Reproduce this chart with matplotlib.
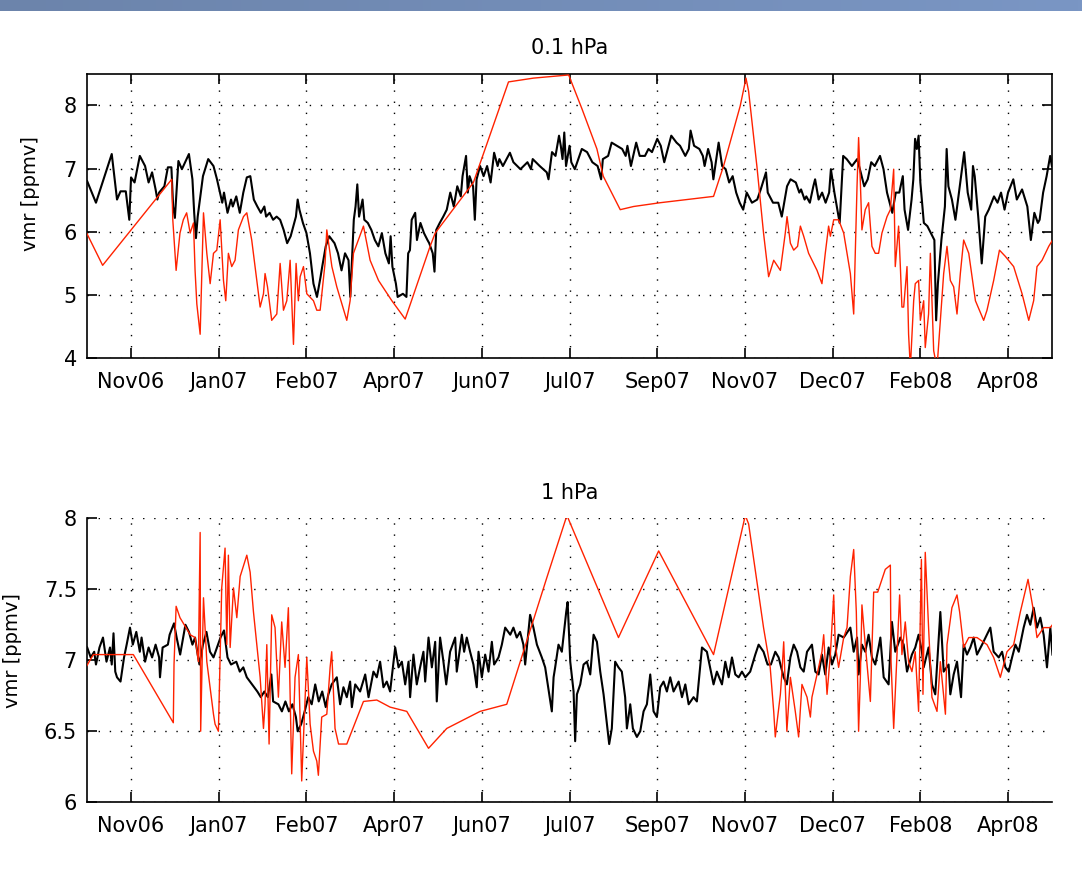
import datetime as dt
import numpy as np
import matplotlib
matplotlib.use('Agg')
import matplotlib.pyplot as plt
import matplotlib.dates as mdates
from matplotlib.colors import LinearSegmentedColormap

# days are counted from 19 Nov 2006
base = dt.datetime(2006, 11, 19)

# 0.1 hPa, black series
top_black_day = [-25, -20, -11, -8, -6, -3, -1, 0, 2, 5, 8, 10, 12, 14, 15, 16, 19, 21, 23, 24,
                 25, 27, 29, 33, 35, 36, 37, 38, 41, 44, 47, 49, 52, 53, 55, 57, 58, 60, 62, 64,
                 66, 68, 70, 72, 74, 76, 77, 79, 81, 83, 85, 87, 89, 91, 94, 95, 96, 98, 100, 102,
                 104, 106, 108, 109, 111, 113, 116, 118, 120, 122, 124, 125, 127, 128, 129, 130, 132, 133, 135, 137,
                 139, 141, 143, 145, 147, 148, 149, 151, 152, 155, 157, 158, 159, 160, 162, 163, 165, 167, 169, 170,
                 172, 173, 174, 176, 178, 180, 182, 184, 186, 188, 189, 191, 192, 193, 195, 196, 197, 199, 201, 203,
                 205, 207, 209, 210, 212, 216, 218, 222, 226, 228, 229, 233, 237, 238, 240, 242, 244, 245, 246, 247,
                 248, 250, 251, 253, 257, 260, 263, 266, 268, 269, 272, 274, 277, 280, 282, 283, 285, 288, 290, 293,
                 295, 297, 300, 302, 304, 306, 308, 311, 313, 316, 318, 319, 321, 324, 326, 327, 329, 331, 332, 335,
                 337, 339, 341, 343, 345, 347, 349, 351, 354, 357, 359, 362, 363, 366, 369, 371, 374, 376, 379, 381,
                 382, 384, 385, 387, 389, 390, 392, 394, 396, 398, 399, 401, 403, 404, 406, 408, 411, 414, 416, 418,
                 420, 422, 424, 427, 429, 431, 434, 436, 438, 440, 441, 443, 445, 446, 447, 448, 449, 450, 452, 454,
                 456, 458, 459, 460, 462, 464, 465, 466, 468, 470, 472, 475, 477, 479, 480, 481, 483, 485, 487, 489,
                 492, 494, 496, 498, 500, 503, 505, 508, 511, 513, 515, 517, 518, 520, 522, 524, 525]
top_black_vmr = [6.80, 6.46, 7.23, 6.51, 6.64, 6.64, 6.19, 6.86, 6.78, 7.20, 7.04, 6.78, 6.94, 6.67, 6.51, 6.62, 6.72, 7.02, 7.02, 6.40,
                 6.22, 7.12, 6.99, 7.23, 6.83, 6.30, 5.90, 6.24, 6.88, 7.15, 7.04, 6.83, 6.46, 6.62, 6.30, 6.51, 6.40, 6.56, 6.30, 6.62,
                 6.86, 6.88, 6.51, 6.40, 6.30, 6.40, 6.24, 6.30, 6.19, 6.24, 6.19, 6.03, 5.82, 5.93, 6.24, 6.51, 6.35, 6.14, 5.98, 5.66,
                 5.18, 4.97, 5.28, 5.45, 5.77, 5.93, 5.82, 5.66, 5.39, 5.66, 5.55, 4.97, 6.19, 6.40, 6.75, 6.24, 6.51, 6.19, 6.14, 6.03,
                 5.87, 5.77, 5.98, 5.66, 5.50, 5.93, 5.45, 5.18, 4.97, 5.02, 4.97, 5.66, 5.71, 6.19, 6.30, 5.87, 6.14, 5.98, 5.87, 5.82,
                 5.66, 5.37, 6.03, 6.14, 6.24, 6.35, 6.62, 6.40, 6.72, 6.56, 6.88, 7.20, 6.62, 6.88, 6.72, 6.19, 6.83, 7.04, 6.88, 7.04,
                 6.78, 7.25, 7.04, 7.15, 7.04, 7.25, 7.10, 6.99, 7.10, 6.99, 7.15, 7.04, 6.94, 6.83, 7.26, 7.20, 7.52, 7.36, 7.15, 7.57,
                 7.04, 7.36, 7.10, 6.99, 7.31, 7.26, 7.10, 7.04, 6.83, 7.15, 7.20, 7.41, 7.36, 7.31, 7.20, 7.36, 7.04, 7.41, 7.20, 7.20,
                 7.31, 7.26, 7.47, 7.36, 7.10, 7.31, 7.52, 7.41, 7.36, 7.20, 7.31, 7.60, 7.36, 7.31, 7.20, 7.04, 7.31, 7.10, 6.83, 7.41,
                 7.04, 6.99, 6.78, 6.88, 6.62, 6.46, 6.35, 6.62, 6.46, 6.51, 6.67, 6.94, 6.62, 6.46, 6.46, 6.24, 6.72, 6.83, 6.78, 6.62,
                 6.67, 6.51, 6.56, 6.46, 6.72, 6.83, 6.51, 6.62, 6.46, 6.62, 6.99, 6.62, 6.30, 6.14, 7.20, 7.15, 7.04, 7.15, 6.94, 6.72,
                 6.83, 7.10, 7.04, 7.20, 6.99, 6.62, 6.30, 6.62, 6.62, 6.88, 6.35, 6.03, 6.51, 6.83, 7.47, 7.31, 7.52, 6.78, 6.14, 6.09,
                 5.98, 5.87, 4.60, 5.18, 5.87, 6.40, 7.31, 6.72, 6.51, 6.19, 6.62, 7.26, 6.62, 6.35, 7.04, 6.88, 6.24, 5.50, 6.24, 6.35,
                 6.56, 6.46, 6.62, 6.35, 6.62, 6.83, 6.51, 6.67, 6.40, 5.87, 6.30, 6.14, 6.19, 6.62, 6.88, 7.20, 7.04]

# 0.1 hPa, red series
top_red_day = [-25.3, -16.2, 23.2, 23.8, 25.7, 27.9, 29.8, 31.7, 33.7, 35.6, 36.5, 37.5, 39.4, 40.3, 41.3, 43.2, 45.1, 47.0, 48.9, 50.8,
               52.7, 54.0, 55.5, 57.4, 59.3, 61.2, 64.1, 66.0, 68.8, 70.7, 73.6, 75.5, 76.4, 77.8, 80.2, 83.1, 85.0, 86.9, 88.8, 90.7,
               92.6, 94.1, 95.4, 96.4, 98.3, 100.2, 104.0, 105.9, 107.8, 110.6, 111.6, 114.5, 117.3, 123.0, 124.9, 126.8, 132.5, 136.3, 141.1, 148.7,
               156.3, 170.5, 173.4, 195.2, 215.2, 229.4, 249.5, 257.0, 265.6, 269.2, 278.9, 286.5, 301.7, 316.9, 332.1, 337.8, 347.3, 350.6, 352.1, 356.8,
               360.6, 363.5, 366.4, 370.2, 373.0, 374.0, 375.9, 377.8, 380.0, 381.6, 383.5, 386.3, 391.1, 393.9, 395.8, 397.7, 398.7, 400.6, 403.4, 406.3,
               410.1, 412.0, 413.9, 414.8, 415.8, 416.7, 418.6, 420.5, 422.4, 424.3, 426.2, 428.1, 431.0, 432.9, 434.8, 435.7, 437.6, 438.6, 439.5, 440.5,
               442.4, 443.3, 444.3, 446.2, 447.1, 449.0, 450.0, 451.9, 452.8, 454.7, 455.7, 457.6, 459.5, 461.4, 463.3, 465.2, 467.1, 469.0, 470.9, 472.8,
               474.7, 477.6, 481.4, 486.1, 488.0, 491.8, 495.1, 498.5, 503.2, 508.0, 511.8, 514.6, 516.5, 519.4, 523.2, 525.4]
top_red_vmr = [5.98, 5.47, 6.83, 6.19, 5.39, 5.98, 6.19, 6.30, 5.98, 6.14, 5.39, 4.86, 4.38, 5.29, 6.30, 5.66, 5.18, 5.66, 5.71, 6.19,
               5.23, 4.91, 5.66, 5.45, 5.55, 6.03, 6.24, 6.30, 5.87, 5.45, 4.81, 5.02, 5.34, 5.13, 4.60, 4.70, 5.50, 4.76, 4.91, 5.55,
               4.22, 5.50, 4.91, 5.29, 5.45, 5.02, 4.91, 4.76, 4.76, 5.50, 6.03, 5.45, 5.13, 4.60, 4.91, 5.66, 6.09, 5.55, 5.23, 4.91,
               4.62, 5.77, 5.98, 6.78, 8.37, 8.43, 8.48, 7.95, 7.31, 6.88, 6.35, 6.40, 6.46, 6.51, 6.56, 7.04, 7.99, 8.43, 8.22, 7.04,
               5.98, 5.29, 5.55, 5.39, 5.98, 6.24, 5.82, 5.71, 5.77, 6.09, 5.93, 5.66, 5.39, 5.18, 5.66, 6.09, 5.93, 6.19, 6.19, 5.98,
               5.34, 4.70, 6.72, 7.49, 6.78, 6.03, 6.35, 6.46, 5.77, 5.66, 5.66, 5.98, 6.24, 6.35, 6.99, 5.45, 6.09, 5.45, 4.81, 4.81,
               5.45, 4.38, 3.85, 4.91, 5.18, 5.23, 4.60, 4.91, 4.17, 4.70, 5.66, 4.12, 3.85, 4.60, 5.34, 5.77, 5.23, 5.13, 4.70, 5.34,
               5.87, 5.66, 4.91, 4.60, 4.76, 5.23, 5.71, 5.61, 5.45, 5.02, 4.60, 4.91, 5.45, 5.55, 5.77, 5.87]

# 1 hPa, black series
bot_black_day = [-25, -23, -21, -20, -18, -16, -14, -12, -11, -10, -9, -8, -6, -4, -2.5, -0.6, 1, 3, 5, 6,
                 8, 10, 12, 14, 16, 16.5, 18, 21, 22, 24.5, 26, 28, 31, 33, 35, 36.5, 38, 39, 41, 43,
                 45, 47, 49, 51, 53, 55, 57, 60, 62, 64, 66, 69, 72, 74, 76, 78, 80, 81, 84, 86,
                 88, 90, 92, 94, 95, 97, 99, 101, 103, 105, 107, 109, 111, 112.5, 114.4, 117.3, 119.2, 121.1, 123.0, 124.9,
                 125.9, 127.8, 130.6, 133.5, 135.4, 138.2, 140.1, 142.0, 143.9, 145.8, 147.7, 150.6, 152.5, 154.4, 156.3, 158.2, 159.1, 161.0, 162.9, 164.8,
                 166.7, 167.7, 169.6, 171.5, 173.4, 174.3, 176.2, 178.1, 179.7, 181.9, 184.8, 185.7, 188.6, 189.9, 191.4, 193.3, 195.2, 197.1, 198.1, 200.0,
                 201.9, 203.8, 205.7, 207.0, 209.5, 211.4, 213.3, 216.2, 218.0, 219.9, 221.8, 223.7, 224.7, 227.5, 229.4, 231.4, 234.2, 236.1, 239.0, 239.9,
                 240.9, 241.8, 243.7, 245.6, 248.1, 248.9, 250.4, 252.3, 253.2, 254.2, 256.1, 258.0, 259.9, 261.8, 263.7, 265.6, 267.5, 269.4, 271.3, 272.6,
                 274.1, 276.0, 277.9, 279.8, 281.7, 282.7, 284.6, 286.1, 288.4, 290.3, 292.2, 294.1, 296.0, 297.9, 299.8, 301.7, 303.6, 305.5, 307.4, 309.3,
                 312.2, 314.1, 316.0, 317.9, 320.7, 322.6, 325.5, 328.3, 332.1, 334.0, 336.9, 338.8, 340.7, 342.6, 344.5, 346.4, 348.3, 350.2, 353.0, 355.9,
                 357.8, 360.6, 362.9, 364.8, 367.3, 369.2, 372.1, 373.9, 375.9, 377.8, 379.7, 381.6, 383.5, 385.4, 388.2, 390.1, 392.0, 393.9, 395.8, 397.7,
                 399.6, 401.5, 403.4, 406.3, 410.1, 412.0, 413.9, 414.8, 416.7, 418.6, 420.5, 422.4, 424.3, 426.2, 427.2, 429.1, 431.9, 433.8, 435.7, 438.6,
                 440.5, 442.4, 445.2, 447.1, 449.0, 450.9, 451.9, 454.7, 456.6, 458.5, 461.4, 463.3, 466.1, 467.1, 469.0, 470.9, 473.2, 474.7, 476.6, 478.5,
                 480.4, 482.3, 485.2, 489.9, 491.8, 494.7, 496.6, 498.5, 500.4, 502.3, 504.2, 506.1, 508.9, 510.8, 512.7, 514.6, 516.5, 518.4, 520.3, 522.2,
                 524.1, 525.3]
bot_black_vmr = [7.09, 7.02, 7.06, 6.97, 7.09, 7.16, 6.99, 7.09, 6.97, 7.19, 6.92, 6.88, 6.85, 7.02, 7.11, 7.23, 7.11, 7.20, 7.06, 7.16,
                 6.99, 7.09, 7.02, 7.11, 7.02, 6.88, 7.09, 7.11, 7.18, 7.26, 7.16, 7.04, 7.25, 7.20, 7.11, 7.16, 7.04, 6.97, 7.11, 7.20,
                 7.06, 7.02, 7.09, 7.16, 7.21, 7.02, 6.97, 6.99, 6.92, 6.95, 6.88, 6.83, 6.78, 6.74, 6.78, 6.74, 6.90, 6.71, 6.69, 6.64,
                 6.71, 6.64, 6.69, 6.60, 6.50, 6.55, 6.64, 6.74, 6.69, 6.83, 6.71, 6.78, 6.67, 6.76, 6.83, 6.88, 6.69, 6.81, 6.74, 6.85,
                 6.67, 6.83, 6.78, 6.90, 6.74, 6.92, 6.88, 6.99, 6.81, 6.85, 6.78, 7.09, 6.95, 6.99, 6.83, 6.99, 6.74, 7.04, 6.83, 6.95,
                 7.06, 6.85, 7.16, 6.95, 7.13, 6.71, 7.16, 6.99, 6.83, 7.06, 7.16, 6.92, 7.18, 7.06, 7.16, 7.06, 6.97, 6.81, 7.06, 6.88,
                 7.04, 6.92, 7.13, 6.97, 7.02, 7.11, 7.23, 7.18, 7.23, 7.16, 7.20, 7.11, 6.97, 7.32, 7.23, 7.11, 7.02, 6.95, 6.71, 6.64,
                 6.88, 6.95, 7.11, 7.06, 7.34, 7.41, 6.99, 6.78, 6.43, 6.76, 6.83, 6.97, 6.99, 6.90, 7.18, 7.13, 6.92, 6.76, 6.55, 6.41,
                 6.52, 6.99, 6.95, 6.92, 6.74, 6.52, 6.69, 6.52, 6.46, 6.50, 6.64, 6.69, 6.90, 6.64, 6.60, 6.81, 6.85, 6.78, 6.88, 6.78,
                 6.85, 6.74, 6.83, 6.69, 6.74, 6.71, 7.09, 7.06, 6.83, 6.92, 6.83, 6.99, 6.88, 7.02, 6.90, 6.88, 6.92, 6.88, 6.92, 7.04,
                 7.11, 7.06, 6.97, 6.97, 7.06, 7.02, 6.88, 6.83, 7.02, 7.11, 7.06, 6.95, 6.92, 7.06, 7.11, 6.92, 6.90, 7.04, 6.90, 7.09,
                 6.97, 7.04, 7.18, 7.16, 7.23, 7.06, 7.16, 6.90, 7.11, 7.06, 7.18, 7.02, 6.97, 7.09, 7.16, 6.88, 6.83, 7.27, 7.06, 7.16,
                 7.11, 6.92, 7.04, 7.09, 7.18, 7.06, 6.95, 7.09, 6.83, 6.76, 7.34, 6.92, 6.97, 6.76, 6.90, 6.99, 6.74, 7.11, 7.04, 7.09,
                 7.16, 7.04, 7.11, 7.23, 7.06, 7.02, 7.06, 6.95, 6.92, 7.02, 7.11, 7.06, 7.23, 7.32, 7.25, 7.37, 7.23, 7.30, 7.18, 6.95,
                 7.23, 7.04]

# 1 hPa, red series
bot_red_day = [-25.3, -21.5, 1.3, 24.1, 24.5, 25.7, 27.9, 33.7, 36.5, 38.4, 39.4, 39.7, 41.3, 43.2, 47.0, 47.9, 49.8, 51.7, 53.6, 54.6,
               55.5, 56.5, 58.4, 60.3, 62.2, 66.0, 67.9, 69.8, 71.7, 73.6, 75.5, 76.4, 77.4, 78.7, 80.2, 82.1, 84.0, 85.9, 87.8, 89.7,
               91.6, 93.5, 95.4, 97.3, 100.2, 102.1, 104.0, 105.9, 106.8, 108.7, 111.6, 113.5, 114.4, 116.3, 118.3, 123.0, 132.5, 140.1, 147.7, 157.2,
               169.6, 180.0, 199.0, 214.2, 223.7, 237.0, 248.5, 277.9, 300.8, 332.1, 350.2, 352.1, 360.6, 364.4, 366.4, 367.3, 370.2, 371.1, 372.1, 373.9,
               375.9, 378.7, 380.6, 382.5, 385.4, 387.3, 388.2, 392.0, 393.9, 394.9, 396.8, 398.7, 400.6, 401.5, 403.4, 406.3, 408.2, 410.1, 412.0, 413.5,
               414.8, 415.8, 416.7, 418.6, 421.5, 423.4, 425.7, 430.0, 432.9, 433.3, 434.8, 438.2, 439.5, 441.4, 443.3, 445.2, 447.1, 449.0, 450.6, 451.5,
               452.8, 454.7, 456.6, 459.5, 461.4, 464.3, 465.2, 468.0, 470.9, 472.4, 474.7, 477.6, 482.3, 488.0, 491.8, 495.6, 499.4, 503.2, 507.0, 511.4,
               514.6, 516.5, 520.3, 524.1, 525.3]
bot_red_vmr = [6.96, 7.04, 7.04, 6.56, 6.97, 7.38, 7.30, 7.18, 7.16, 6.99, 7.90, 6.50, 7.44, 6.99, 6.62, 6.55, 6.50, 7.51, 7.79, 7.11,
               7.74, 7.09, 7.51, 7.30, 7.59, 7.74, 7.62, 7.34, 7.11, 6.88, 6.52, 6.69, 7.11, 6.41, 7.32, 7.23, 6.74, 7.27, 6.95, 7.37,
               6.20, 6.88, 7.04, 6.15, 7.02, 6.55, 6.36, 6.29, 6.19, 6.60, 6.62, 6.95, 7.06, 6.52, 6.41, 6.41, 6.71, 6.72, 6.67, 6.64,
               6.38, 6.52, 6.64, 6.69, 7.06, 7.58, 8.02, 7.16, 7.77, 7.04, 8.02, 7.96, 7.23, 6.95, 6.64, 6.46, 6.76, 6.92, 7.13, 6.50,
               6.88, 6.64, 6.46, 6.83, 6.74, 6.60, 6.74, 6.95, 7.06, 7.18, 6.76, 7.04, 7.46, 7.11, 6.95, 7.16, 7.23, 7.59, 7.78, 7.34,
               6.50, 6.88, 7.39, 7.11, 6.71, 7.48, 7.48, 7.64, 7.67, 6.99, 6.52, 7.46, 7.04, 7.27, 6.99, 6.92, 7.06, 6.64, 7.71, 6.76,
               7.76, 7.23, 6.74, 6.64, 6.99, 6.62, 7.11, 7.37, 7.46, 7.34, 7.09, 7.16, 7.16, 7.11, 7.02, 6.88, 7.06, 7.11, 7.34, 7.57,
               7.34, 7.16, 7.23, 7.23, 7.25]

titles = ['0.1 hPa', '1 hPa']
ylims = [(4, 8.5), (6, 8)]
yticks = [[4, 5, 6, 7, 8], [6, 6.5, 7, 7.5, 8]]
ytick_labels = [['4', '5', '6', '7', '8'], ['6', '6.5', '7', '7.5', '8']]
ylabel_xy = [(-0.048, 0.58), (-0.067, 0.535)]


def to_dates(days):
    return [base + dt.timedelta(days=float(d)) for d in days]


plt.rcParams['font.family'] = 'DejaVu Sans'
fig = plt.figure(figsize=(10.82, 8.69), dpi=100)

# blue strip across the top of the slide
band = fig.add_axes([0, 1 - 11 / 869, 1, 11 / 869])
band_cmap = LinearSegmentedColormap.from_list('band', ['#6c84ab', '#7a96c4'])
band.imshow(np.linspace(0, 1, 256).reshape(1, -1), aspect='auto', cmap=band_cmap)
band.axis('off')

ax_top = fig.add_axes([0.0801, 0.5877, 0.8924, 0.3275])
ax_bot = fig.add_axes([0.0801, 0.0768, 0.8924, 0.3268])

series = [(ax_top, top_black_day, top_black_vmr, top_red_day, top_red_vmr),
          (ax_bot, bot_black_day, bot_black_vmr, bot_red_day, bot_red_vmr)]

xticks = [base + dt.timedelta(days=50 * k) for k in range(11)]

for i, (ax, bd, bv, rd, rv) in enumerate(series):
    ax.plot(to_dates(bd), bv, color='black', lw=1.5, zorder=3)
    ax.plot(to_dates(rd), rv, color='#ff2200', lw=1.0, zorder=4)
    ax.set_xlim(base - dt.timedelta(days=25.3), base + dt.timedelta(days=525.2))
    ax.set_ylim(*ylims[i])
    ax.set_yticks(yticks[i])
    ax.set_yticklabels(ytick_labels[i])
    ax.set_xticks(xticks)
    ax.xaxis.set_major_formatter(mdates.DateFormatter('%b%y'))
    ax.grid(True, color='black', linestyle=(0, (1, 7)), linewidth=1.0)
    ax.set_axisbelow(True)
    ax.set_title(titles[i], fontsize=15, pad=14)
    ax.set_ylabel('vmr [ppmv]', fontsize=14)
    ax.yaxis.set_label_coords(*ylabel_xy[i])
    for s in ax.spines.values():
        s.set_linewidth(1.2)
    ax.tick_params(direction='in', length=7, width=1.2, labelsize=15)
    ax.tick_params(axis='x', pad=10)
    ax.tick_params(axis='y', pad=7)

ax_top.tick_params(top=True, right=True)
ax_bot.spines['top'].set_visible(False)
ax_bot.spines['right'].set_visible(False)

fig.savefig('out.png', dpi=100)
